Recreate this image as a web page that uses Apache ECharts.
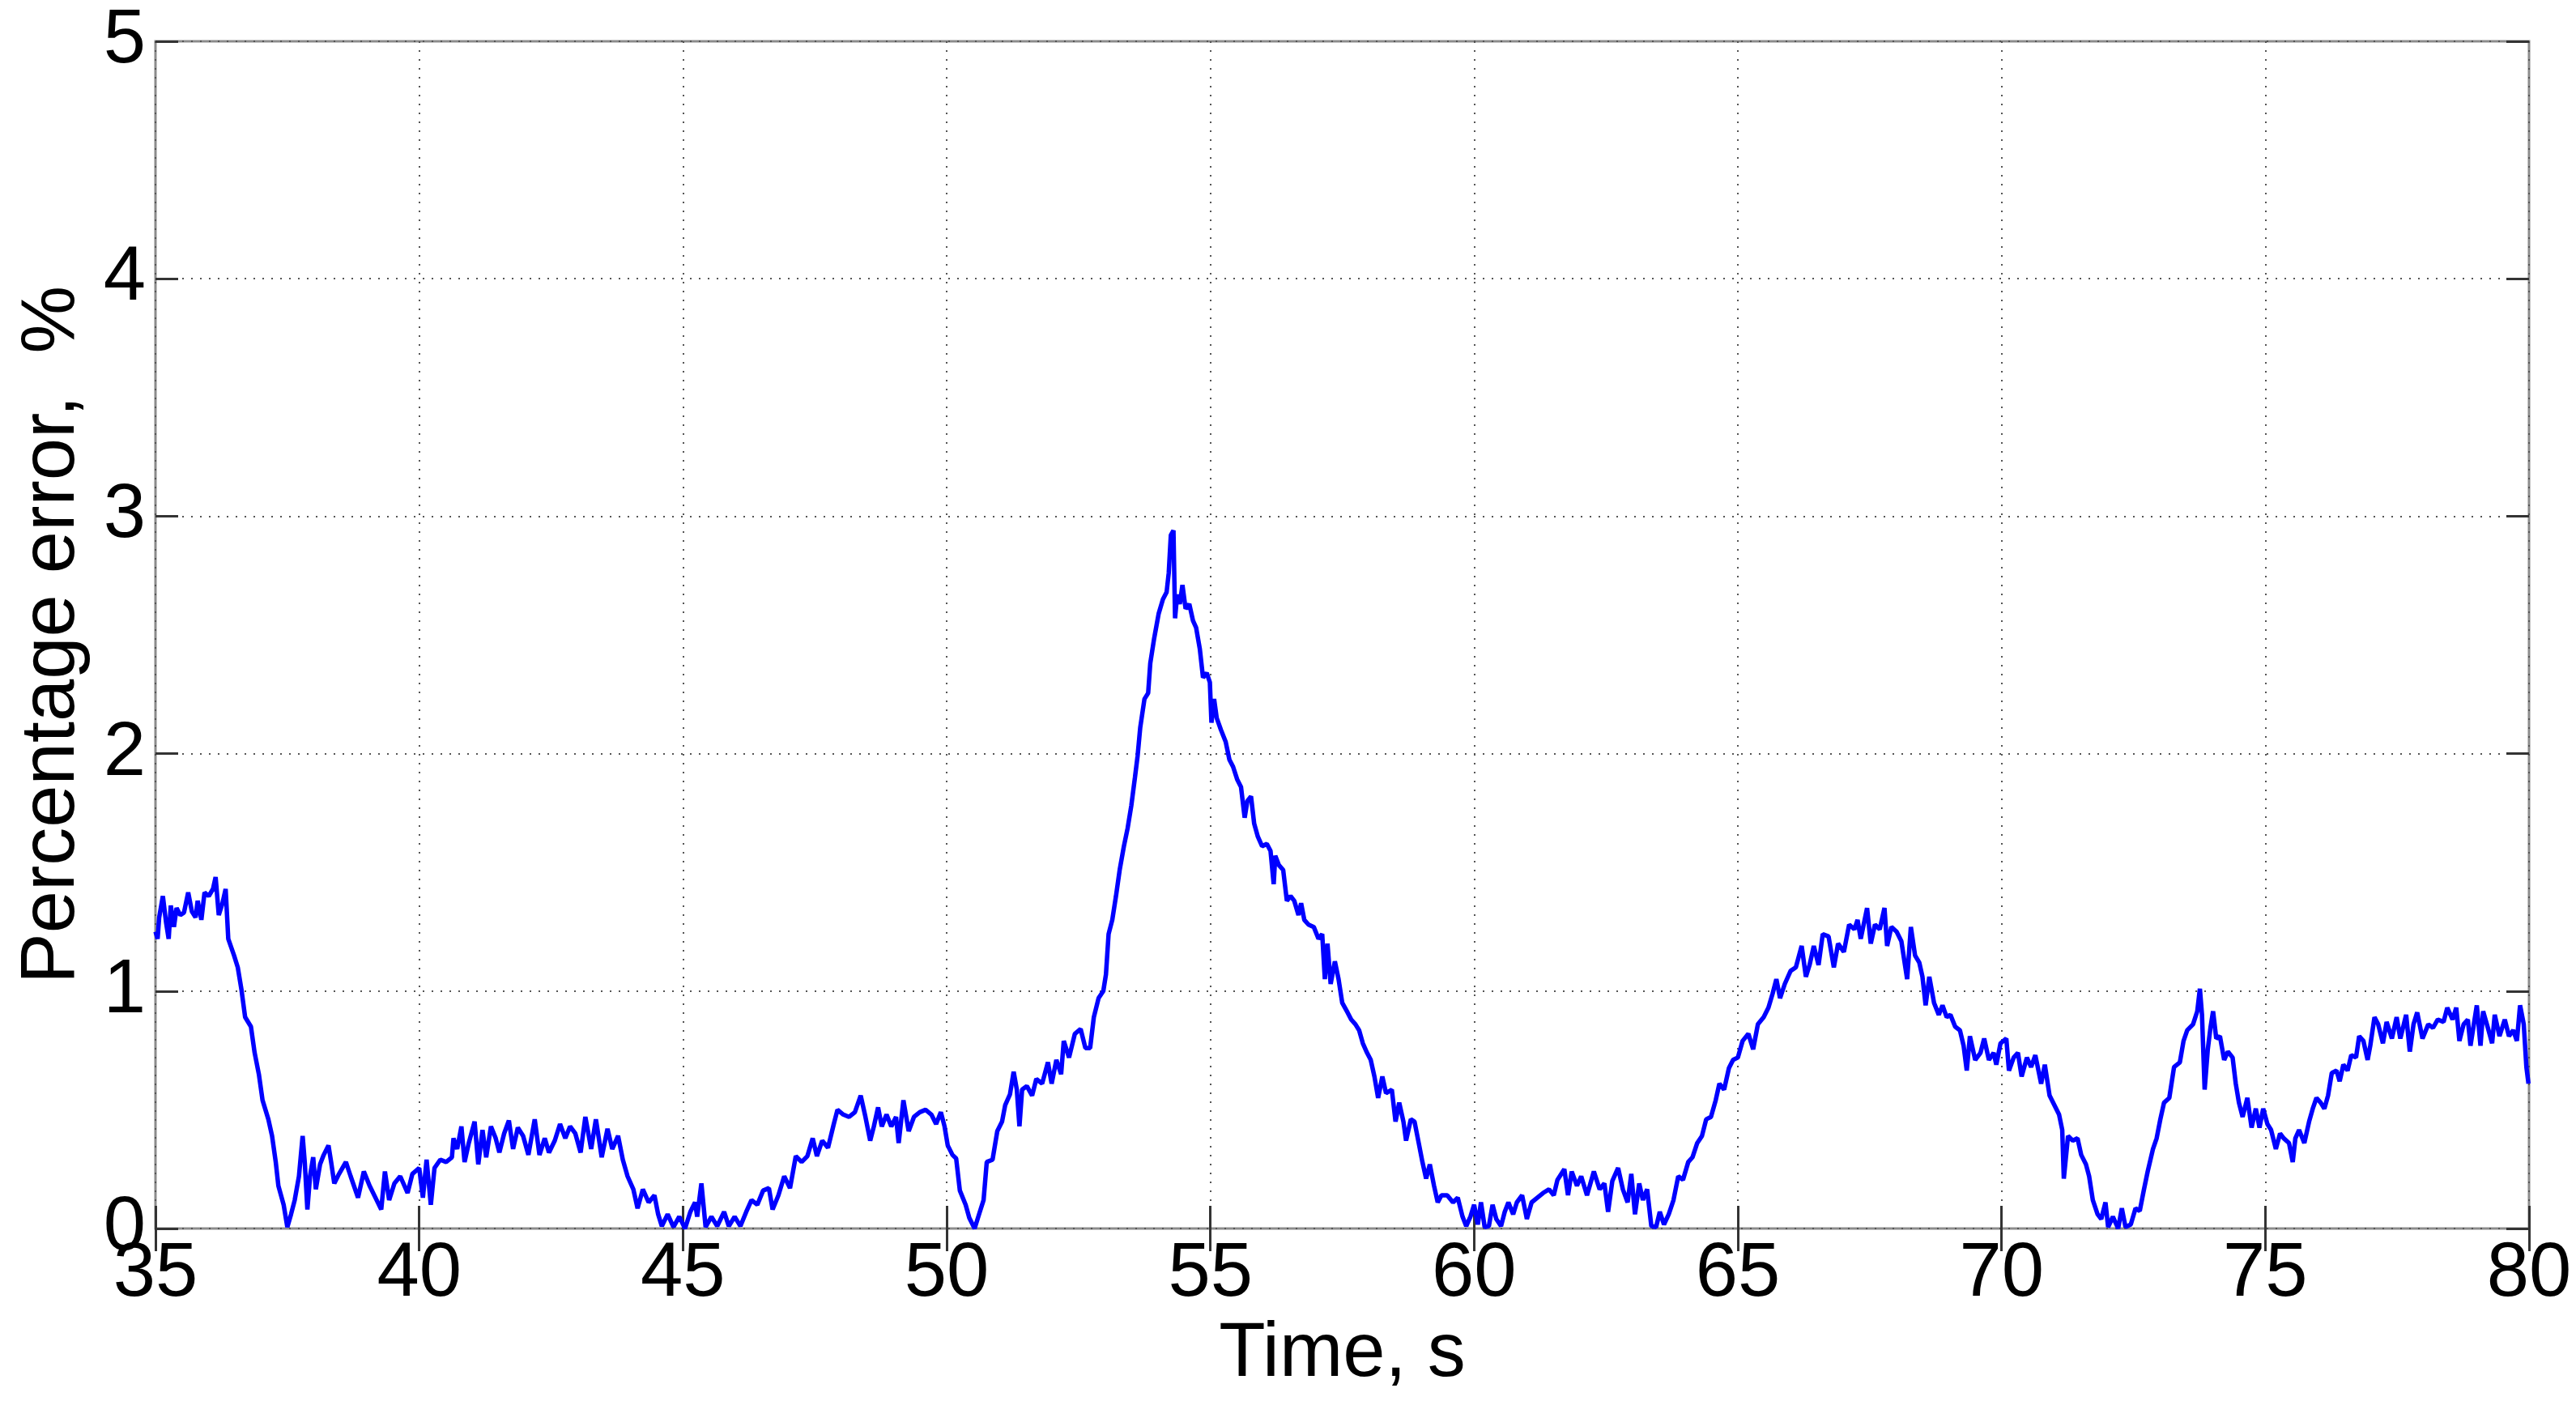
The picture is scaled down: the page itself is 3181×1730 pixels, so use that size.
<!DOCTYPE html>
<html>
<head>
<meta charset="utf-8">
<title>Percentage error</title>
<script src="https://cdn.jsdelivr.net/npm/echarts@6/dist/echarts.min.js"></script>
<style>
  html, body { margin: 0; padding: 0; background: #fff; }
  #chart { width: 3181px; height: 1730px; }
</style>
</head>
<body>
<div id="chart"></div>
<script>
// time, s
const timeSec = [
  35.00, 35.04, 35.07, 35.14, 35.20, 35.25, 35.29, 35.35, 35.40, 35.47,
  35.54, 35.62, 35.69, 35.76, 35.80, 35.87, 35.93, 36.01, 36.09, 36.14,
  36.20, 36.27, 36.33, 36.38, 36.49, 36.56, 36.63, 36.70, 36.81, 36.88,
  36.96, 37.03, 37.14, 37.21, 37.28, 37.33, 37.43, 37.50, 37.57, 37.64,
  37.72, 37.79, 37.83, 37.88, 37.93, 37.99, 38.04, 38.12, 38.19, 38.28,
  38.33, 38.39, 38.48, 38.61, 38.70, 38.84, 38.95, 39.06, 39.17, 39.28,
  39.35, 39.43, 39.53, 39.64, 39.78, 39.87, 40.00, 40.07, 40.14, 40.22,
  40.29, 40.40, 40.51, 40.62, 40.65, 40.72, 40.80, 40.86, 40.94, 41.05,
  41.12, 41.20, 41.27, 41.36, 41.45, 41.52, 41.61, 41.70, 41.78, 41.87,
  41.97, 42.07, 42.19, 42.28, 42.38, 42.46, 42.57, 42.67, 42.77, 42.86,
  42.96, 43.06, 43.15, 43.26, 43.35, 43.46, 43.57, 43.66, 43.77, 43.86,
  43.95, 44.06, 44.14, 44.24, 44.35, 44.46, 44.53, 44.60, 44.71, 44.82,
  44.93, 45.04, 45.14, 45.23, 45.27, 45.35, 45.43, 45.54, 45.65, 45.78,
  45.87, 45.98, 46.09, 46.20, 46.30, 46.41, 46.52, 46.63, 46.70, 46.81,
  46.92, 47.03, 47.14, 47.25, 47.36, 47.46, 47.54, 47.64, 47.75, 47.86,
  47.93, 48.04, 48.15, 48.26, 48.37, 48.46, 48.55, 48.62, 48.70, 48.77,
  48.86, 48.95, 49.04, 49.09, 49.18, 49.28, 49.38, 49.49, 49.60, 49.71,
  49.80, 49.89, 49.96, 50.02, 50.11, 50.18, 50.25, 50.36, 50.43, 50.53,
  50.62, 50.70, 50.76, 50.87, 50.96, 51.05, 51.11, 51.20, 51.27, 51.33,
  51.38, 51.43, 51.52, 51.62, 51.70, 51.81, 51.92, 51.99, 52.08, 52.17,
  52.22, 52.32, 52.43, 52.54, 52.63, 52.72, 52.79, 52.88, 52.97, 53.02,
  53.07, 53.14, 53.21, 53.28, 53.36, 53.43, 53.50, 53.57, 53.62, 53.67,
  53.75, 53.82, 53.86, 53.93, 54.02, 54.10, 54.17, 54.21, 54.25, 54.30,
  54.33, 54.37, 54.42, 54.47, 54.53, 54.60, 54.67, 54.73, 54.80, 54.86,
  54.93, 54.99, 55.02, 55.07, 55.12, 55.20, 55.29, 55.36, 55.43, 55.51,
  55.58, 55.65, 55.70, 55.77, 55.83, 55.90, 55.98, 56.07, 56.14, 56.20,
  56.23, 56.30, 56.38, 56.45, 56.52, 56.59, 56.67, 56.72, 56.78, 56.86,
  56.96, 57.05, 57.12, 57.17, 57.22, 57.28, 57.36, 57.43, 57.50, 57.60,
  57.67, 57.75, 57.82, 57.89, 57.97, 58.04, 58.11, 58.18, 58.26, 58.33,
  58.44, 58.51, 58.58, 58.66, 58.71, 58.80, 58.87, 58.95, 59.02, 59.09,
  59.16, 59.24, 59.31, 59.38, 59.49, 59.60, 59.69, 59.78, 59.85, 59.93,
  60.00, 60.07, 60.13, 60.20, 60.28, 60.35, 60.42, 60.51, 60.58, 60.65,
  60.74, 60.81, 60.91, 61.00, 61.09, 61.20, 61.31, 61.42, 61.51, 61.58,
  61.71, 61.78, 61.85, 61.95, 62.03, 62.14, 62.27, 62.38, 62.47, 62.54,
  62.62, 62.73, 62.82, 62.91, 62.98, 63.05, 63.13, 63.20, 63.28, 63.36,
  63.45, 63.52, 63.60, 63.69, 63.78, 63.87, 63.96, 64.06, 64.14, 64.23,
  64.32, 64.40, 64.49, 64.58, 64.65, 64.74, 64.83, 64.91, 65.00, 65.09,
  65.20, 65.29, 65.38, 65.49, 65.58, 65.66, 65.73, 65.80, 65.89, 66.00,
  66.10, 66.21, 66.29, 66.36, 66.44, 66.53, 66.61, 66.72, 66.82, 66.90,
  67.01, 67.11, 67.21, 67.27, 67.33, 67.45, 67.52, 67.60, 67.69, 67.78,
  67.83, 67.91, 68.01, 68.10, 68.21, 68.28, 68.36, 68.44, 68.50, 68.56,
  68.63, 68.72, 68.81, 68.88, 68.96, 69.03, 69.12, 69.21, 69.28, 69.34,
  69.40, 69.50, 69.60, 69.67, 69.76, 69.85, 69.90, 69.98, 70.09, 70.14,
  70.23, 70.31, 70.38, 70.48, 70.56, 70.64, 70.75, 70.82, 70.91, 71.00,
  71.09, 71.15, 71.18, 71.26, 71.35, 71.44, 71.51, 71.60, 71.66, 71.73,
  71.82, 71.89, 71.97, 72.02, 72.11, 72.21, 72.28, 72.35, 72.45, 72.54,
  72.62, 72.70, 72.77, 72.87, 72.94, 73.01, 73.08, 73.18, 73.27, 73.38,
  73.45, 73.52, 73.63, 73.71, 73.76, 73.80, 73.85, 73.91, 73.96, 74.01,
  74.07, 74.14, 74.22, 74.29, 74.38, 74.44, 74.50, 74.57, 74.66, 74.74,
  74.82, 74.89, 74.96, 75.04, 75.11, 75.20, 75.28, 75.35, 75.45, 75.52,
  75.57, 75.64, 75.74, 75.83, 75.90, 75.97, 76.05, 76.12, 76.19, 76.26,
  76.35, 76.41, 76.48, 76.56, 76.63, 76.72, 76.78, 76.86, 76.94, 76.99,
  77.07, 77.14, 77.23, 77.30, 77.40, 77.49, 77.56, 77.67, 77.74, 77.81,
  77.88, 77.98, 78.09, 78.18, 78.27, 78.38, 78.45, 78.55, 78.62, 78.68,
  78.76, 78.84, 78.89, 79.01, 79.08, 79.13, 79.22, 79.30, 79.35, 79.44,
  79.54, 79.62, 79.70, 79.77, 79.83, 79.90, 79.95, 79.99
]

// percentage error, % (same order as timeSec)
const errorPct = [
  1.25, 1.22, 1.31, 1.40, 1.29, 1.22, 1.36, 1.27, 1.35, 1.32,
  1.33, 1.415, 1.335, 1.31, 1.38, 1.30, 1.415, 1.40, 1.43, 1.48,
  1.32, 1.37, 1.43, 1.22, 1.15, 1.10, 1.006, 0.89, 0.85, 0.74,
  0.65, 0.54, 0.46, 0.39, 0.28, 0.18, 0.10, 0.006, 0.06, 0.12,
  0.22, 0.39, 0.28, 0.08, 0.22, 0.30, 0.165, 0.27, 0.31, 0.35,
  0.28, 0.19, 0.23, 0.28, 0.22, 0.13, 0.24, 0.18, 0.13, 0.08,
  0.24, 0.12, 0.19, 0.22, 0.15, 0.23, 0.255, 0.13, 0.29, 0.10,
  0.255, 0.29, 0.28, 0.30, 0.38, 0.335, 0.43, 0.28, 0.36, 0.45,
  0.27, 0.415, 0.30, 0.43, 0.38, 0.32, 0.40, 0.455, 0.335, 0.425,
  0.39, 0.31, 0.46, 0.31, 0.38, 0.32, 0.37, 0.44, 0.38, 0.43,
  0.40, 0.32, 0.47, 0.335, 0.46, 0.30, 0.42, 0.335, 0.39, 0.29,
  0.22, 0.165, 0.085, 0.165, 0.11, 0.14, 0.06, 0.01, 0.06, 0.006,
  0.05, 0.00, 0.07, 0.11, 0.05, 0.19, 0.006, 0.05, 0.01, 0.07,
  0.01, 0.05, 0.01, 0.07, 0.12, 0.10, 0.16, 0.17, 0.08, 0.14,
  0.22, 0.17, 0.305, 0.28, 0.305, 0.38, 0.305, 0.37, 0.34, 0.44,
  0.50, 0.48, 0.47, 0.49, 0.56, 0.47, 0.37, 0.43, 0.51, 0.43,
  0.48, 0.43, 0.47, 0.36, 0.54, 0.41, 0.47, 0.49, 0.50, 0.48,
  0.44, 0.49, 0.43, 0.35, 0.31, 0.295, 0.16, 0.10, 0.044, 0.00,
  0.064, 0.12, 0.28, 0.29, 0.41, 0.45, 0.52, 0.565, 0.66, 0.585,
  0.43, 0.585, 0.60, 0.56, 0.63, 0.61, 0.70, 0.61, 0.71, 0.65,
  0.79, 0.72, 0.82, 0.84, 0.76, 0.76, 0.89, 0.97, 1.00, 1.07,
  1.24, 1.30, 1.40, 1.51, 1.61, 1.685, 1.78, 1.90, 1.99, 2.11,
  2.23, 2.255, 2.38, 2.48, 2.59, 2.65, 2.68, 2.76, 2.92, 2.94,
  2.57, 2.67, 2.63, 2.71, 2.61, 2.63, 2.56, 2.53, 2.44, 2.32,
  2.34, 2.30, 2.13, 2.23, 2.15, 2.10, 2.05, 1.975, 1.945, 1.89,
  1.86, 1.73, 1.80, 1.82, 1.705, 1.65, 1.61, 1.62, 1.59, 1.45,
  1.57, 1.53, 1.51, 1.38, 1.40, 1.38, 1.32, 1.37, 1.30, 1.28,
  1.27, 1.22, 1.24, 1.05, 1.20, 1.03, 1.125, 1.05, 0.95, 0.91,
  0.88, 0.86, 0.835, 0.78, 0.74, 0.71, 0.64, 0.55, 0.64, 0.57,
  0.585, 0.45, 0.53, 0.45, 0.37, 0.46, 0.45, 0.36, 0.28, 0.21,
  0.27, 0.18, 0.11, 0.14, 0.14, 0.11, 0.13, 0.05, 0.01, 0.05,
  0.10, 0.017, 0.11, 0.006, 0.01, 0.10, 0.04, 0.01, 0.07, 0.11,
  0.06, 0.11, 0.14, 0.04, 0.11, 0.13, 0.15, 0.165, 0.14, 0.205,
  0.25, 0.14, 0.24, 0.18, 0.22, 0.14, 0.24, 0.165, 0.19, 0.07,
  0.20, 0.255, 0.165, 0.11, 0.23, 0.06, 0.19, 0.12, 0.165, 0.01,
  0.006, 0.07, 0.017, 0.06, 0.12, 0.22, 0.205, 0.28, 0.30, 0.36,
  0.39, 0.46, 0.47, 0.54, 0.61, 0.585, 0.675, 0.71, 0.72, 0.79,
  0.82, 0.755, 0.86, 0.89, 0.93, 0.99, 1.05, 0.97, 1.03, 1.085,
  1.10, 1.19, 1.06, 1.11, 1.19, 1.11, 1.24, 1.23, 1.10, 1.20,
  1.165, 1.28, 1.26, 1.30, 1.22, 1.35, 1.20, 1.28, 1.26, 1.35,
  1.19, 1.27, 1.25, 1.21, 1.05, 1.27, 1.15, 1.12, 1.06, 0.94,
  1.06, 0.95, 0.90, 0.94, 0.89, 0.90, 0.85, 0.835, 0.77, 0.665,
  0.81, 0.71, 0.74, 0.80, 0.71, 0.74, 0.69, 0.78, 0.80, 0.665,
  0.72, 0.74, 0.64, 0.72, 0.68, 0.73, 0.61, 0.69, 0.56, 0.52,
  0.48, 0.415, 0.21, 0.39, 0.37, 0.38, 0.31, 0.27, 0.22, 0.12,
  0.06, 0.04, 0.11, 0.006, 0.05, 0.00, 0.085, 0.006, 0.017, 0.085,
  0.074, 0.165, 0.24, 0.335, 0.38, 0.46, 0.53, 0.55, 0.68, 0.70,
  0.79, 0.835, 0.86, 0.915, 1.01, 0.90, 0.585, 0.755, 0.845, 0.915,
  0.80, 0.81, 0.71, 0.745, 0.72, 0.61, 0.53, 0.47, 0.55, 0.425,
  0.505, 0.425, 0.505, 0.44, 0.415, 0.335, 0.40, 0.38, 0.36, 0.28,
  0.38, 0.415, 0.36, 0.45, 0.505, 0.55, 0.53, 0.505, 0.56, 0.655,
  0.665, 0.62, 0.69, 0.665, 0.73, 0.72, 0.81, 0.79, 0.71, 0.77,
  0.89, 0.86, 0.78, 0.87, 0.80, 0.89, 0.80, 0.90, 0.745, 0.86,
  0.91, 0.80, 0.86, 0.845, 0.88, 0.87, 0.93, 0.88, 0.93, 0.79,
  0.86, 0.88, 0.77, 0.94, 0.77, 0.915, 0.845, 0.78, 0.90, 0.81,
  0.88, 0.81, 0.835, 0.79, 0.94, 0.86, 0.68, 0.61
]

// 轴的范围和刻度
const xRange = [35, 80]
const xStep = 5
const yRange = [0, 5]
const yStep = 1

const fontFamily = '"Liberation Sans", Arial, Helvetica, sans-serif'

const seriesData = timeSec.map((t, i) => [t, errorPct[i]])

const tick = { show: true, inside: true, length: 28, lineStyle: { color: '#333', width: 3 } }
const dotted = { show: true, lineStyle: { color: '#555', width: 2, type: [2, 9] } }

const options = {
  animation: false,
  backgroundColor: '#fff',
  grid: {
    left: 192, right: 58, top: 51, bottom: 213,
    show: true,
    borderColor: '#8c8c8c',
    borderWidth: 3
  },
  xAxis: [
    {
      type: 'value',
      min: xRange[0], max: xRange[1], interval: xStep,
      name: 'Time, s',
      nameLocation: 'middle',
      nameGap: 98,
      nameTextStyle: { fontFamily, fontSize: 94, color: '#000', lineHeight: 94 },
      axisLine: { show: false },
      axisTick: tick,
      splitLine: dotted,
      axisLabel: {
        fontFamily, fontSize: 94, color: '#000', margin: 10, lineHeight: 94,
        showMinLabel: true, showMaxLabel: true
      }
    },
    {
      type: 'value', position: 'top',
      min: xRange[0], max: xRange[1], interval: xStep,
      axisLine: { show: false },
      axisTick: tick,
      splitLine: { show: false },
      axisLabel: { show: false }
    }
  ],
  yAxis: [
    {
      type: 'value',
      min: yRange[0], max: yRange[1], interval: yStep,
      name: 'Percentage error,  %',
      nameLocation: 'middle',
      nameGap: 80,
      nameTextStyle: { fontFamily, fontSize: 94, color: '#000', lineHeight: 94 },
      axisLine: { show: false },
      axisTick: tick,
      splitLine: dotted,
      axisLabel: {
        fontFamily, fontSize: 94, color: '#000', margin: 12,
        showMinLabel: true, showMaxLabel: true
      }
    },
    {
      type: 'value', position: 'right',
      min: yRange[0], max: yRange[1], interval: yStep,
      axisLine: { show: false },
      axisTick: tick,
      splitLine: { show: false },
      axisLabel: { show: false }
    }
  ],
  series: [
    {
      type: 'line',
      xAxisIndex: 0,
      yAxisIndex: 0,
      data: seriesData,
      showSymbol: false,
      lineStyle: { color: '#0000ff', width: 5.5 },
      z: 5
    }
  ]
}

function chartInit() {
  const chart = echarts.init(document.getElementById('chart'))
  chart.setOption(options)
}

chartInit()
</script>
</body>
</html>
